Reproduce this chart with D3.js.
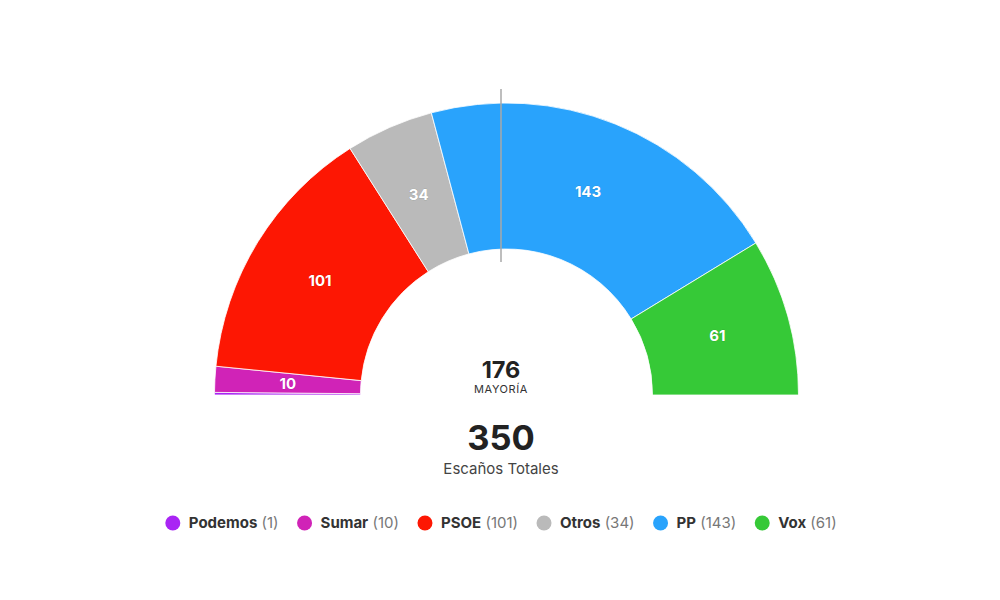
<!DOCTYPE html>
<html>
<head>
<meta charset="utf-8">
<script src="https://cdn.jsdelivr.net/npm/d3@7"></script>
<style>
  body { margin: 0; background: #ffffff; }
  svg { display: block; font-family: Inter, "Liberation Sans", sans-serif; }
</style>
</head>
<body>
<div id="chart"></div>
<script>
// seats per party, left to right around the hemicycle
const parties = ["Podemos", "Sumar", "PSOE", "Otros", "PP", "Vox"]
const seats = [1, 10, 101, 34, 143, 61]
const colors = ["#a925f4", "#d023b7", "#fd1703", "#bababa", "#29a3fc", "#36c937"]
const totalSeats = 350
const majority = 176

const width = 1000
const height = 600

// the arc sits a little right of the page centre, text is on the page centre
const centerX = 501
const arcX = 506.5
const arcY = 395
const outerR = 292
const innerR = 146

const svg = d3.select("#chart")
  .append("svg")
  .attr("width", width)
  .attr("height", height)

svg.append("rect")
  .attr("width", width)
  .attr("height", height)
  .attr("fill", "#ffffff")

const data = parties.map((p, i) => ({ name: p, value: seats[i], color: colors[i] }))

// half pie, from -90deg (left) to +90deg (right)
const pie = d3.pie()
  .sort(null)
  .value(d => d.value)
  .startAngle(-Math.PI / 2)
  .endAngle(Math.PI / 2)

const arc = d3.arc()
  .innerRadius(innerR)
  .outerRadius(outerR)

const labelArc = d3.arc()
  .innerRadius((innerR + outerR) / 2)
  .outerRadius((innerR + outerR) / 2)

const g = svg.append("g")
  .attr("transform", `translate(${arcX},${arcY})`)

const arcs = pie(data)

g.selectAll("path.seat")
  .data(arcs)
  .enter()
  .append("path")
  .attr("class", "seat")
  .attr("d", arc)
  .attr("fill", d => d.data.color)
  .attr("stroke", "#ffffff")
  .attr("stroke-width", 0.8)

// labels only for the bigger slices
g.selectAll("text.seatlabel")
  .data(arcs.filter(d => d.data.value >= 5))
  .enter()
  .append("text")
  .attr("class", "seatlabel")
  .attr("transform", d => `translate(${labelArc.centroid(d)})`)
  .attr("text-anchor", "middle")
  .attr("dy", "0.36em")
  .style("font-size", "15px")
  .style("font-weight", "700")
  .style("fill", "#ffffff")
  .style("paint-order", "stroke")
  .style("stroke", "rgba(0,0,0,0.12)")
  .style("stroke-width", "1px")
  .text(d => d.data.value)

// majority marker line
const majY = d3.scaleLinear().domain([0, 1]).range([arcY - outerR - 14, arcY - innerR + 13])
svg.append("line")
  .attr("x1", centerX)
  .attr("x2", centerX)
  .attr("y1", majY(0))
  .attr("y2", majY(1))
  .attr("stroke", "#a8a8a8")
  .attr("stroke-width", 1.5)

// centre texts
svg.append("text")
  .attr("x", centerX)
  .attr("y", 378)
  .attr("text-anchor", "middle")
  .style("font-size", "23.5px")
  .style("font-weight", "700")
  .style("fill", "#222")
  .text(majority)

svg.append("text")
  .attr("x", centerX)
  .attr("y", 393)
  .attr("text-anchor", "middle")
  .style("font-size", "11px")
  .style("letter-spacing", "0.6px")
  .style("fill", "#333")
  .text("MAYORÍA")

svg.append("text")
  .attr("x", centerX)
  .attr("y", 450)
  .attr("text-anchor", "middle")
  .style("font-size", "34.5px")
  .style("font-weight", "700")
  .style("fill", "#222")
  .text(totalSeats)

svg.append("text")
  .attr("x", centerX)
  .attr("y", 474)
  .attr("text-anchor", "middle")
  .style("font-size", "15px")
  .style("fill", "#444")
  .text("Escaños Totales")

// legend, laid out by measured widths then centred
const legend = svg.append("g")
const legendY = 523
const dotR = 7.5
const textGap = 16
const itemGap = 26
let cursor = 0
let lastEnd = 0
data.forEach(d => {
  const item = legend.append("g")
    .attr("transform", `translate(${cursor},0)`)
  item.append("circle")
    .attr("cx", 0)
    .attr("cy", legendY)
    .attr("r", dotR)
    .attr("fill", d.color)
  const t = item.append("text")
    .attr("x", textGap)
    .attr("y", legendY)
    .attr("dy", "0.35em")
    .style("font-size", "15px")
  t.append("tspan")
    .style("font-weight", "700")
    .style("fill", "#333")
    .text(d.name)
  t.append("tspan")
    .style("fill", "#777")
    .text(` (${d.value})`)
  lastEnd = cursor + textGap + t.node().getComputedTextLength()
  cursor = lastEnd + itemGap
})
const legendWidth = lastEnd + dotR
legend.attr("transform", `translate(${centerX - legendWidth / 2 + dotR},0)`)
</script>
</body>
</html>
